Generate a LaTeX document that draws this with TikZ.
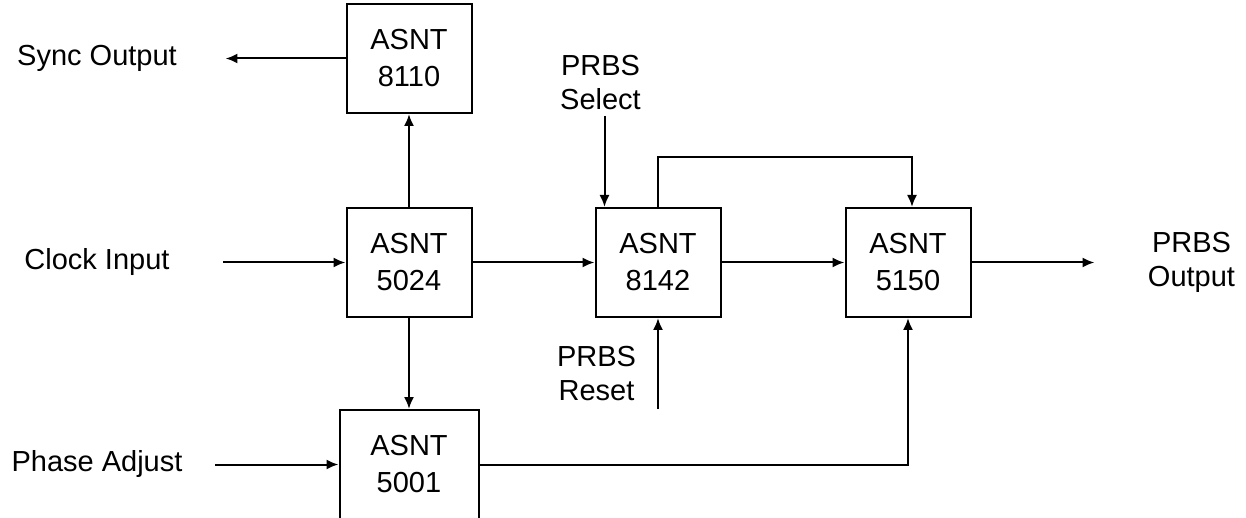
\documentclass[tikz,border=0pt]{standalone}
\usepackage{fontspec}
\setmainfont{Liberation Sans}
\usepackage{tikz}
\usetikzlibrary{arrows.meta}
\usetikzlibrary{positioning}
\tikzstyle{modbox} = [draw, rectangle, line width=1pt, minimum width=62.5pt, minimum height=54.5pt, align=center, font=\fontsize{14.5}{18.5}\selectfont]
\tikzstyle{iolabel} = [align=center, font=\fontsize{14.5}{17}\selectfont]
\tikzstyle{wire} = [line width=1pt]

\begin{document}
\begin{tikzpicture}[>={Latex[length=6pt,width=5pt]}]
  \useasboundingbox (-204.5pt,131.25pt) rectangle (418.5pt,-127.75pt);

  \node[modbox] (asnt5024) {ASNT\\5024};
  \node[modbox, above=46.5pt of asnt5024] (asnt8110) {ASNT\\8110};
  \node[modbox, below=45.5pt of asnt5024, minimum width=69.5pt] (asnt5001) {ASNT\\5001};
  \node[modbox, right=61pt of asnt5024] (asnt8142) {ASNT\\8142};
  \node[modbox, right=61.5pt of asnt8142] (asnt5150) {ASNT\\5150};

  \node[iolabel] (sync_out) at ([xshift=-156pt]asnt8110) {Sync Output};
  \node[iolabel] (clk_in) at ([xshift=-156pt]asnt5024) {Clock Input};
  \node[iolabel] (phase_adj) at ([xshift=-156pt]asnt5001) {Phase Adjust};
  \node[iolabel] (prbs_sel) at ([xshift=-28.75pt, yshift=89.75pt]asnt8142) {PRBS\\Select};
  \node[iolabel] (prbs_rst) at ([xshift=-30.75pt, yshift=-55.75pt]asnt8142) {PRBS\\Reset};
  \node[iolabel] (prbs_out) at ([xshift=141.75pt]asnt5150) {PRBS\\Output};

  \coordinate[left=60pt of asnt8110] (sync_dst);
  \coordinate[left=61pt of asnt5024] (clk_src);
  \coordinate[left=61.5pt of asnt5001] (phase_src);
  \coordinate[right=61.5pt of asnt5150] (out_dst);
  \coordinate (sel_src) at ([xshift=5pt, yshift=45.5pt]asnt8142.north west);
  \coordinate (rst_src) at ([yshift=-45.5pt]asnt8142.south);
  \coordinate (loop_top) at ([yshift=25pt]asnt8142.north);

  \draw[wire, ->] (asnt8110) -- (sync_dst);
  \draw[wire, ->] (clk_src) -- (asnt5024);
  \draw[wire, ->] (phase_src) -- (asnt5001);
  \draw[wire, ->] (asnt5024) -- (asnt8110);
  \draw[wire, ->] (asnt5024) -- (asnt5001);
  \draw[wire, ->] (asnt5024) -- (asnt8142);
  \draw[wire, ->] (asnt8142) -- (asnt5150);
  \draw[wire, ->] (asnt5150) -- (out_dst);
  \draw[wire, ->] (sel_src) -- (sel_src |- asnt8142.north);
  \draw[wire, ->] (rst_src) -- (asnt8142);
  \draw[wire, ->] (asnt8142.north) -- (loop_top) -| ([xshift=2pt]asnt5150.north);
  \draw[wire, ->] (asnt5001) -| (asnt5150);
\end{tikzpicture}
\end{document}
